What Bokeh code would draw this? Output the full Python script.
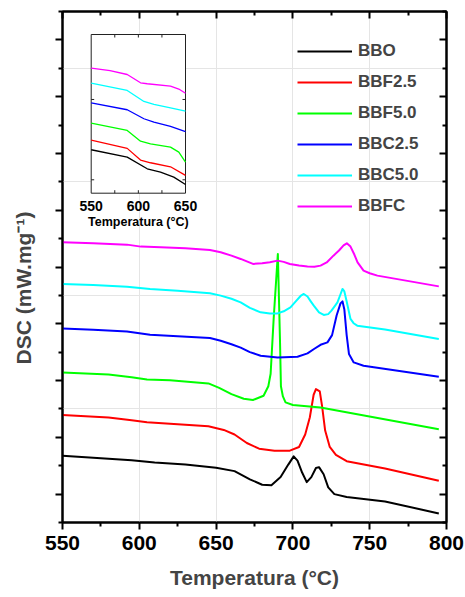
import math
from bokeh.plotting import figure
from bokeh.models import LinearAxis, FixedTicker, Range1d, Legend, LegendItem
from bokeh.embed import file_html
from bokeh.resources import INLINE
from bokeh.core.properties import value

FONT = "Liberation Sans"

# ---------------- data (main plot) ----------------
series_names = ["BBO", "BBF2.5", "BBF5.0", "BBC2.5", "BBC5.0", "BBFC"]
series_colors = ["#000000", "#FF0000", "#00FF00", "#0000FF", "#00FFFF", "#FF00FF"]

bbo_T = [550, 575, 595, 610, 630, 650, 662, 672, 680, 686, 692, 697, 700.5, 703, 706, 709, 712, 715, 717, 720, 723, 727, 735, 760, 795]
bbo_y = [1.176, 1.13, 1.095, 1.055, 1.02, 0.965, 0.905, 0.76, 0.665, 0.655, 0.80, 1.02, 1.165, 1.09, 0.88, 0.71, 0.80, 0.96, 0.975, 0.85, 0.62, 0.50, 0.45, 0.37, 0.16]

bbf25_T = [550, 580, 595, 605, 620, 645, 655, 662, 670, 678, 688, 698, 704, 708, 711, 713.5, 715, 717.5, 719, 721, 724, 728, 735, 760, 795]
bbf25_y = [1.893, 1.85, 1.80, 1.765, 1.74, 1.695, 1.63, 1.55, 1.40, 1.30, 1.265, 1.265, 1.33, 1.55, 1.85, 2.25, 2.35, 2.31, 2.05, 1.62, 1.33, 1.19, 1.08, 0.95, 0.735]

bbf50_T = [550, 580, 595, 605, 620, 645, 652, 660, 668, 674, 680.9, 684, 685.5, 687.5, 690.2, 691.6, 692.2, 693.5, 695.2, 700, 718, 795]
bbf50_y = [2.644, 2.605, 2.56, 2.52, 2.505, 2.45, 2.37, 2.26, 2.18, 2.157, 2.233, 2.40, 2.62, 3.60, 4.73, 3.20, 2.40, 2.22, 2.115, 2.07, 2.027, 1.643]

bbc25_T = [550, 570, 592, 607, 625, 646, 653, 660, 666, 672, 679, 690, 703, 709.5, 714, 718, 722.5, 725.5, 728.5, 731, 732.3, 733.5, 735, 736.5, 739.6, 746, 795]
bbc25_y = [3.419, 3.396, 3.366, 3.308, 3.28, 3.25, 3.20, 3.14, 3.08, 3.00, 2.938, 2.908, 2.920, 2.978, 3.06, 3.13, 3.172, 3.30, 3.65, 3.86, 3.895, 3.75, 3.30, 2.968, 2.82, 2.762, 2.568]

bbc50_T = [550, 570, 592, 607, 625, 646, 653, 660, 666, 672, 679, 685, 690, 694, 698.4, 702, 705, 707.1, 709.5, 711.5, 713.6, 717, 720.1, 723, 725.1, 727.5, 729, 731, 732.3, 733.5, 734.9, 737.5, 739.5, 741.9, 760, 795]
bbc50_y = [4.202, 4.184, 4.154, 4.113, 4.08, 4.036, 3.996, 3.94, 3.877, 3.78, 3.701, 3.68, 3.683, 3.72, 3.789, 3.90, 3.99, 4.025, 3.98, 3.90, 3.819, 3.70, 3.655, 3.67, 3.731, 3.82, 3.877, 4.02, 4.113, 4.07, 3.907, 3.585, 3.51, 3.467, 3.40, 3.232]

bbfc_T = [550, 570, 592, 601, 614, 630, 646, 653, 660, 666, 674, 680, 685, 690, 694, 698, 704, 709.5, 714, 718, 722, 726.4, 730, 733, 735.1, 737.5, 740, 742.1, 746, 750, 755, 795]
bbfc_y = [4.935, 4.917, 4.894, 4.859, 4.847, 4.83, 4.801, 4.759, 4.70, 4.642, 4.554, 4.565, 4.585, 4.612, 4.59, 4.554, 4.525, 4.507, 4.505, 4.524, 4.58, 4.700, 4.79, 4.88, 4.917, 4.859, 4.72, 4.582, 4.436, 4.39, 4.348, 4.159]

main_T = [bbo_T, bbf25_T, bbf50_T, bbc25_T, bbc50_T, bbfc_T]
main_y = [bbo_y, bbf25_y, bbf50_y, bbc25_y, bbc50_y, bbfc_y]

x_major = [550, 600, 650, 700, 750, 800]
x_minor = [575, 625, 675, 725, 775]
y_major = [0.5, 1.5, 2.5, 3.5, 4.5, 5.5, 6.5, 7.5, 8.5]
y_minor = [0, 1, 2, 3, 4, 5, 6, 7, 8, 9]

# ---------------- data (inset) ----------------
in_bbo_T = [550, 588.2, 609.4, 623.5, 637.6, 650]
in_bbo_y = [0.874, 0.782, 0.637, 0.595, 0.533, 0.442]
in_bbf25_T = [550, 588.2, 602.3, 612.9, 634.1, 650]
in_bbf25_y = [0.994, 0.891, 0.745, 0.712, 0.662, 0.555]
in_bbf50_T = [550, 588.2, 602.3, 612.9, 634.1, 642.9, 650]
in_bbf50_y = [1.205, 1.114, 0.981, 0.948, 0.906, 0.844, 0.719]
in_bbc25_T = [550, 588.2, 605.9, 616.5, 634.1, 650]
in_bbc25_y = [1.459, 1.372, 1.260, 1.217, 1.164, 1.101]
in_bbc50_T = [550, 588.2, 605.9, 616.5, 634.1, 650]
in_bbc50_y = [1.703, 1.612, 1.475, 1.438, 1.396, 1.354]
in_bbfc_T = [550, 570, 588.2, 602.3, 609.4, 634.1, 642.9, 650]
in_bbfc_y = [1.890, 1.86, 1.811, 1.708, 1.696, 1.666, 1.63, 1.578]

inset_T = [in_bbo_T, in_bbf25_T, in_bbf50_T, in_bbc25_T, in_bbc50_T, in_bbfc_T]
inset_y = [in_bbo_y, in_bbf25_y, in_bbf50_y, in_bbc25_y, in_bbc50_y, in_bbfc_y]

in_x_range = (550, 650)
in_y_range = (0.333, 2.309)
in_x_major = [550, 600, 650]
in_x_ticks = [575, 600, 625]
in_y_ticks = [0.5, 1.5]

# ---------------- layout geometry (pixels) ----------------
FL, FR, FT, FB = 62, 446, 11, 522          # main frame
IL, IR, IT, IB = 90.7, 185, 34, 192.7      # inset frame inside the main frame


def style_axis(ax, width, tin, tout, min_in, min_out, labels, label_size="21px"):
    ax.axis_line_color = "black"
    ax.axis_line_width = width
    ax.major_tick_line_color = "black"
    ax.minor_tick_line_color = "black"
    ax.major_tick_line_width = width
    ax.minor_tick_line_width = width
    ax.major_tick_in = tin
    ax.major_tick_out = tout
    ax.minor_tick_in = min_in
    ax.minor_tick_out = min_out
    if labels:
        ax.major_label_text_font = FONT
        ax.major_label_text_font_style = "bold"
        ax.major_label_text_font_size = label_size
        ax.major_label_text_color = "black"
    else:
        ax.major_label_text_font_size = "0px"
        ax.major_label_standoff = 0


# ---------------- main figure ----------------
p = figure(frame_width=FR - FL, frame_height=FB - FT,
           min_border_left=FL, min_border_right=465 - FR, min_border_top=FT, min_border_bottom=597 - FB,
           x_range=Range1d(550, 800), y_range=Range1d(0, 9),
           x_axis_location=None, y_axis_location=None,
           output_backend="svg", toolbar_location=None)
p.outline_line_color = "black"
p.outline_line_width = 2
p.background_fill_color = "white"
p.border_fill_color = "white"

xt = FixedTicker(ticks=x_major, minor_ticks=x_minor)
yt = FixedTicker(ticks=y_major, minor_ticks=y_minor)

ax_b = LinearAxis(ticker=xt)
style_axis(ax_b, 2, 0, 7, 0, 4, True)
ax_b.major_label_standoff = 6
ax_b.axis_label = "Temperatura (°C)"
ax_b.axis_label_text_font = FONT
ax_b.axis_label_text_font_style = "bold"
ax_b.axis_label_text_font_size = "21px"
ax_b.axis_label_standoff = 13
p.add_layout(ax_b, "below")

ax_t = LinearAxis(ticker=xt)
style_axis(ax_t, 2, 7, 0, 4, 0, False)
ax_t.major_label_overrides = {v: "" for v in x_major}
p.add_layout(ax_t, "above")

ax_l = LinearAxis(ticker=yt)
style_axis(ax_l, 2, 0, 7, 0, 4, False)
ax_l.major_label_overrides = {v: "" for v in y_major}
# trailing en spaces shift the visible title down along the axis, as in the reference
ax_l.axis_label = "DSC (mW.mg\u207b\u00b9)" + "\u2002" * 4
ax_l.axis_label_text_font = FONT
ax_l.axis_label_text_font_style = "bold"
ax_l.axis_label_text_font_size = "21px"
ax_l.axis_label_standoff = 21
p.add_layout(ax_l, "left")

ax_r = LinearAxis(ticker=yt)
style_axis(ax_r, 2, 7, 0, 4, 0, False)
ax_r.major_label_overrides = {v: "" for v in y_major}
p.add_layout(ax_r, "right")

items = []
for name, col, T, y in zip(series_names, series_colors, main_T, main_y):
    r = p.line(T, y, line_color=col, line_width=2, line_join="round")
    items.append(LegendItem(label=name, renderers=[r]))

legend = Legend(items=items, location=(235, 306))
legend.label_text_font = FONT
legend.label_text_font_style = "bold"
legend.label_text_font_size = "17px"
legend.glyph_width = 55
legend.glyph_height = 20
legend.label_height = 20
legend.spacing = 11
legend.label_standoff = 6
legend.padding = 0
legend.margin = 0
legend.border_line_alpha = 0
legend.background_fill_alpha = 0
p.add_layout(legend)

# ---------------- inset drawn on extra ranges of the same figure ----------------
kx = (IR - IL) / (in_x_range[1] - in_x_range[0])
ky = (IB - IT) / (in_y_range[1] - in_y_range[0])
p.extra_x_ranges = {"ins": Range1d(in_x_range[0] - (IL - FL) / kx, in_x_range[1] + (FR - IR) / kx)}
p.extra_y_ranges = {"ins": Range1d(in_y_range[0] - (FB - IB) / ky, in_y_range[1] + (IT - FT) / ky)}
R = dict(x_range_name="ins", y_range_name="ins")

p.quad(left=[in_x_range[0]], right=[in_x_range[1]], bottom=[in_y_range[0]], top=[in_y_range[1]],
       fill_color="white", line_color="#222222", line_width=1, **R)

for col, T, y in zip(series_colors, inset_T, inset_y):
    p.line(T, y, line_color=col, line_width=1.3, line_join="round", **R)

tick_len = 3.0
p.segment(x0=in_x_ticks, y0=[in_y_range[1]] * len(in_x_ticks),
          x1=in_x_ticks, y1=[in_y_range[1] - tick_len / ky] * len(in_x_ticks),
          line_color="#222222", line_width=1, **R)
p.segment(x0=in_x_ticks, y0=[in_y_range[0]] * len(in_x_ticks),
          x1=in_x_ticks, y1=[in_y_range[0] + tick_len / ky] * len(in_x_ticks),
          line_color="#222222", line_width=1, **R)
p.segment(x0=[in_x_range[0]] * len(in_y_ticks), y0=in_y_ticks,
          x1=[in_x_range[0] + tick_len / kx] * len(in_y_ticks), y1=in_y_ticks,
          line_color="#222222", line_width=1, **R)
p.segment(x0=[in_x_range[1]] * len(in_y_ticks), y0=in_y_ticks,
          x1=[in_x_range[1] - tick_len / kx] * len(in_y_ticks), y1=in_y_ticks,
          line_color="#222222", line_width=1, **R)

p.text(x=in_x_major, y=[in_y_range[0]] * len(in_x_major), text=[str(v) for v in in_x_major],
       text_align=value("center"), text_baseline=value("middle"), y_offset=12.5,
       text_font=value(FONT), text_font_style=value("bold"), text_font_size=value("14px"),
       text_color="black", **R)
p.text(x=[(in_x_range[0] + in_x_range[1]) / 2], y=[in_y_range[0]], text=["Temperatura (°C)"],
       text_align=value("center"), text_baseline=value("middle"), y_offset=29,
       text_font=value(FONT), text_font_style=value("bold"), text_font_size=value("12.5px"),
       text_color="black", **R)

open("out.html", "w").write(file_html(p, INLINE))
